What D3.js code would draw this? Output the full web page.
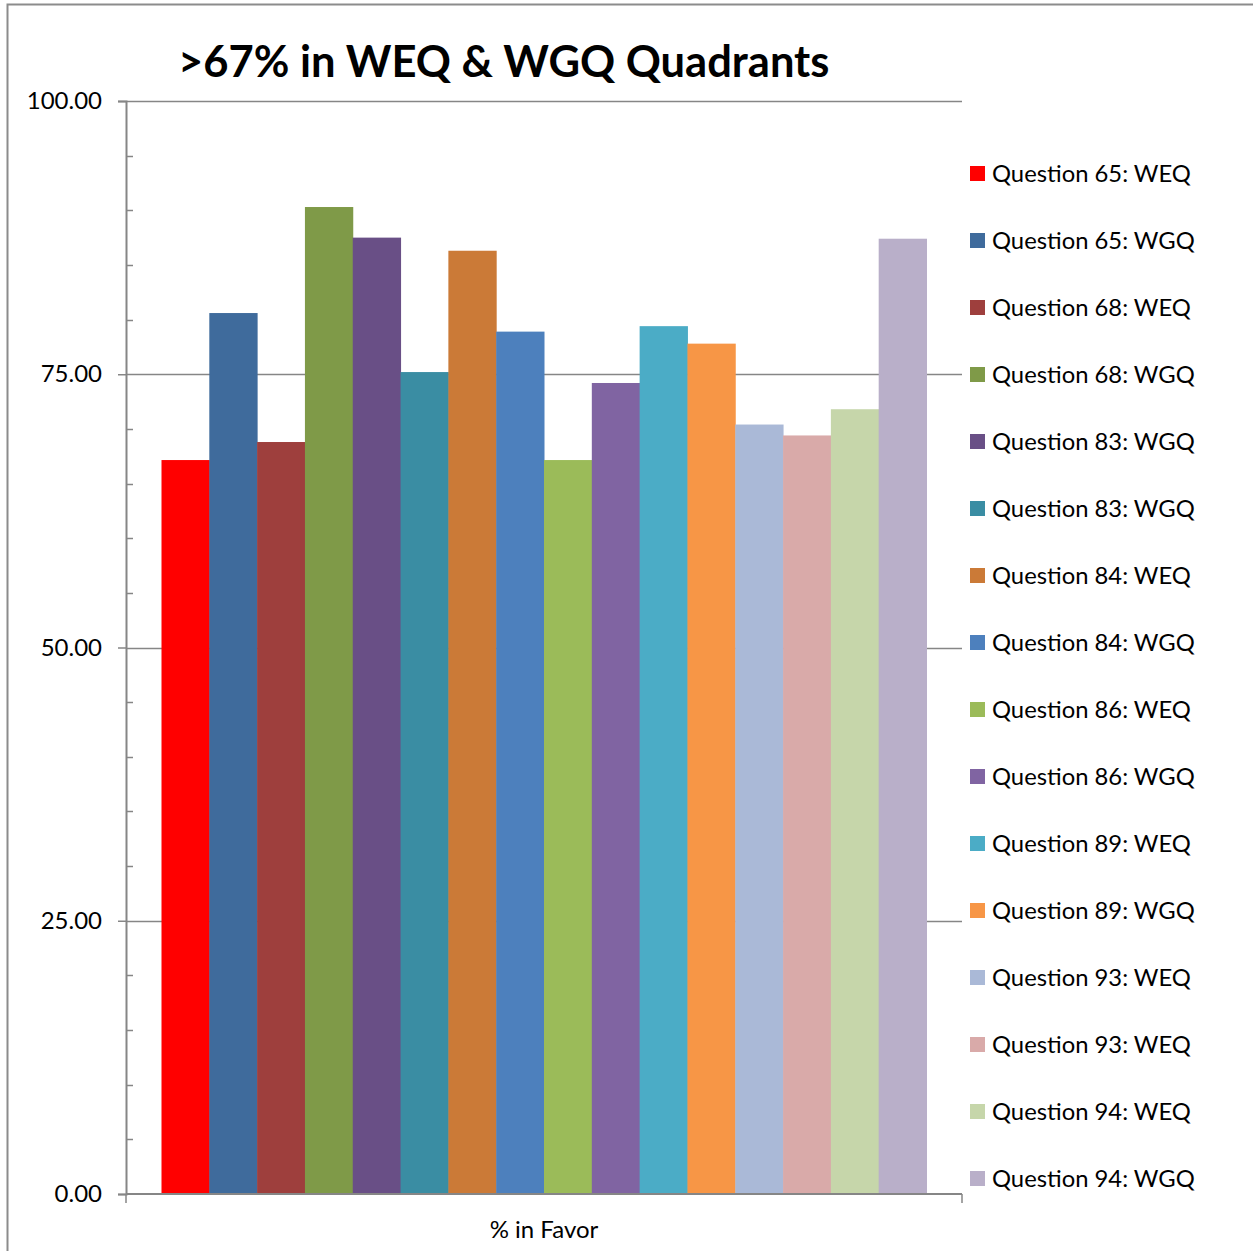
<!DOCTYPE html>
<html>
<head>
<meta charset="utf-8">
<script src="https://cdn.jsdelivr.net/npm/d3@7"></script>
<style>
  body { margin: 0; background: #fff; }
  text { font-family: Lato, "Open Sans", sans-serif; }
</style>
</head>
<body>
<div id="chart"></div>
<script>
const categories = ["% in Favor"]
const series = ["Question 65: WEQ", "Question 65: WGQ", "Question 68: WEQ", "Question 68: WGQ",
  "Question 83: WGQ", "Question 83: WGQ", "Question 84: WEQ", "Question 84: WGQ",
  "Question 86: WEQ", "Question 86: WGQ", "Question 89: WEQ", "Question 89: WGQ",
  "Question 93: WEQ", "Question 93: WEQ", "Question 94: WEQ", "Question 94: WGQ"]
const values = [67.15, 80.6, 68.8, 90.3, 87.5, 75.2, 86.3, 78.9,
  67.15, 74.2, 79.4, 77.8, 70.4, 69.4, 71.8, 87.4]
const colors = ["#ff0000", "#3f6b9c", "#9e3f3d", "#7f9a48", "#694f86", "#3a8da3", "#cb7a37", "#4d80bd",
  "#9bbb59", "#8064a2", "#4bacc6", "#f79646", "#aab9d7", "#d9aaa9", "#c6d6aa", "#b9afc9"]
const yTicks = [0, 25, 50, 75, 100]

let width = 1253
let height = 1251
let plot = {left: 126, right: 962, top: 101, bottom: 1194}
let axisColor = "#868686"

const svg = d3.select("#chart")
  .append("svg")
  .attr("width", width)
  .attr("height", height)

// frame
svg.append("path")
  .attr("d", `M7.5,${height} V4.5 H${width}`)
  .attr("fill", "none")
  .attr("stroke", "#8c8c8c")
  .attr("stroke-width", 2)

let yScale = d3.scaleLinear()
  .domain([0, 100])
  .range([plot.bottom, plot.top])

let x0 = d3.scaleBand()
  .domain(categories)
  .range([plot.left, plot.right])
  .paddingOuter(0.0464)

// series names repeat, so band on index
let x1 = d3.scaleBand()
  .domain(d3.range(series.length))
  .range([0, x0.bandwidth()])

// gridlines
svg.append("g")
  .selectAll("line")
  .data(yTicks.slice(1))
  .join("line")
  .attr("x1", plot.left)
  .attr("x2", plot.right)
  .attr("y1", d => Math.round(yScale(d)) + 0.5)
  .attr("y2", d => Math.round(yScale(d)) + 0.5)
  .attr("stroke", axisColor)
  .attr("stroke-width", 1.5)

// bars
svg.append("g")
  .selectAll("g")
  .data(categories)
  .join("g")
  .attr("transform", d => `translate(${x0(d)},0)`)
  .selectAll("rect")
  .data(series.map((s, i) => ({i: i, name: s, value: values[i], color: colors[i]})))
  .join("rect")
  .attr("x", d => x1(d.i))
  .attr("width", x1.bandwidth() + 0.5)
  .attr("y", d => yScale(d.value))
  .attr("height", d => yScale(0) - yScale(d.value))
  .attr("fill", d => d.color)

// y axis
let yAxis = svg.append("g")
  .attr("transform", `translate(${plot.left},0)`)
  .call(d3.axisLeft(yScale).tickValues(yTicks).tickSize(8).tickPadding(16).tickFormat(d3.format(".2f")))
yAxis.select(".domain").attr("stroke", axisColor).attr("stroke-width", 2)
yAxis.selectAll(".tick line").attr("stroke", axisColor).attr("stroke-width", 1.5)
yAxis.selectAll(".tick text")
  .attr("font-size", 24)
  .attr("fill", "#000")
  .style("font-family", "Lato, 'Open Sans', sans-serif")

// minor ticks
svg.append("g")
  .selectAll("line")
  .data(d3.range(5, 100, 5).filter(d => d % 25 != 0))
  .join("line")
  .attr("x1", plot.left)
  .attr("x2", plot.left + 7)
  .attr("y1", d => Math.round(yScale(d)) + 0.5)
  .attr("y2", d => Math.round(yScale(d)) + 0.5)
  .attr("stroke", axisColor)
  .attr("stroke-width", 1.5)

// x axis
let xAxis = svg.append("g")
  .attr("transform", `translate(0,${plot.bottom})`)
xAxis.append("line")
  .attr("x1", plot.left).attr("x2", plot.right)
  .attr("stroke", axisColor).attr("stroke-width", 2)
xAxis.selectAll(".edge")
  .data([plot.left, plot.right])
  .join("line")
  .attr("class", "edge")
  .attr("x1", d => d).attr("x2", d => d)
  .attr("y1", 0).attr("y2", 9)
  .attr("stroke", axisColor).attr("stroke-width", 1.5)
xAxis.selectAll(".cat")
  .data(categories)
  .join("text")
  .attr("class", "cat")
  .attr("x", d => x0(d) + x0.bandwidth() / 2)
  .attr("y", 44)
  .attr("text-anchor", "middle")
  .attr("font-size", 24)
  .text(d => d)

// title
svg.append("text")
  .attr("x", 178)
  .attr("y", 77)
  .attr("font-size", 43.5)
  .attr("font-weight", "bold")
  .text(">67% in WEQ & WGQ Quadrants")

// legend
let legend = svg.append("g")
  .selectAll("g")
  .data(series)
  .join("g")
  .attr("transform", (d, i) => `translate(970,${173 + i * 67})`)
legend.append("rect")
  .attr("x", 0).attr("y", -7)
  .attr("width", 15).attr("height", 15)
  .attr("fill", (d, i) => colors[i])
legend.append("text")
  .attr("x", 22)
  .attr("y", 8.5)
  .attr("font-size", 23.8)
  .text(d => d)
</script>
</body>
</html>
